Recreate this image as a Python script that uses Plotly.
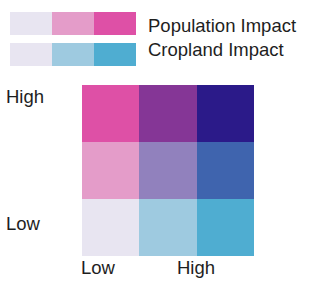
import plotly.graph_objects as go

W, H = 318, 293

# Data
pop_levels = ["Low", "Mid", "High"]
pop_colors = ["#e8e5f1", "#e49cc9", "#de50a6"]
crop_colors = ["#e8e5f1", "#9ecae0", "#4fadd1"]
legend_labels = ["Population Impact", "Cropland Impact"]
# grid rows bottom->top (population low->high), columns left->right (cropland low->high)
grid_colors = [
    ["#e8e5f1", "#9ecae0", "#4fadd1"],
    ["#e49cc9", "#9181bd", "#3f64ae"],
    ["#de50a6", "#853696", "#2b1a89"],
]
axis_ticks = ["Low", "High"]

def px(x):
    return x / W

def py(y):
    return 1 - y / H

def discrete_scale(colors):
    n = len(colors)
    return [[i / (n - 1), c] for i, c in enumerate(colors)]

fig = go.Figure()

# Population bar
fig.add_trace(go.Heatmap(z=[[0, 1, 2]], x=[0, 1, 2], y=[0],
                         colorscale=discrete_scale(pop_colors), zmin=0, zmax=2,
                         showscale=False, hoverinfo="skip", xaxis="x2", yaxis="y2"))
# Cropland bar
fig.add_trace(go.Heatmap(z=[[0, 1, 2]], x=[0, 1, 2], y=[0],
                         colorscale=discrete_scale(crop_colors), zmin=0, zmax=2,
                         showscale=False, hoverinfo="skip", xaxis="x3", yaxis="y3"))
# Bivariate grid
flat = [c for row in grid_colors for c in row]
z = [[r * 3 + c for c in range(3)] for r in range(3)]
fig.add_trace(go.Heatmap(z=z, x=[0, 1, 2], y=[0, 1, 2],
                         colorscale=discrete_scale(flat), zmin=0, zmax=8,
                         showscale=False, hoverinfo="skip", xaxis="x", yaxis="y"))

hidden = dict(visible=False, showgrid=False, zeroline=False, fixedrange=True)
fig.update_layout(
    width=W, height=H,
    margin=dict(l=0, r=0, t=0, b=0),
    paper_bgcolor="white", plot_bgcolor="white",
    xaxis=dict(domain=[px(82), px(254)], range=[-0.5, 2.5], **hidden),
    yaxis=dict(domain=[py(256), py(85)], range=[-0.5, 2.5], **hidden),
    xaxis2=dict(domain=[px(10), px(136)], range=[-0.5, 2.5], anchor="y2", **hidden),
    yaxis2=dict(domain=[py(35), py(12)], range=[-0.5, 0.5], anchor="x2", **hidden),
    xaxis3=dict(domain=[px(10), px(136)], range=[-0.5, 2.5], anchor="y3", **hidden),
    yaxis3=dict(domain=[py(66), py(43)], range=[-0.5, 0.5], anchor="x3", **hidden),
    showlegend=False,
)

font = dict(family="Liberation Sans, Arial, sans-serif", size=18.5, color="#1e1e1e")
ann = [
    (146, 25, legend_labels[0]),
    (146, 49, legend_labels[1]),
    (4, 96, axis_ticks[1]),
    (4, 223, axis_ticks[0]),
    (79, 267, axis_ticks[0]),
    (175, 267, axis_ticks[1]),
]
for x, y, t in ann:
    fig.add_annotation(x=px(x), y=py(y), xref="paper", yref="paper", text=t,
                       showarrow=False, xanchor="left", yanchor="middle", font=font)

fig.write_html("out.html", config={"displayModeBar": False, "staticPlot": True},
               post_script="document.body.style.margin='0';")
